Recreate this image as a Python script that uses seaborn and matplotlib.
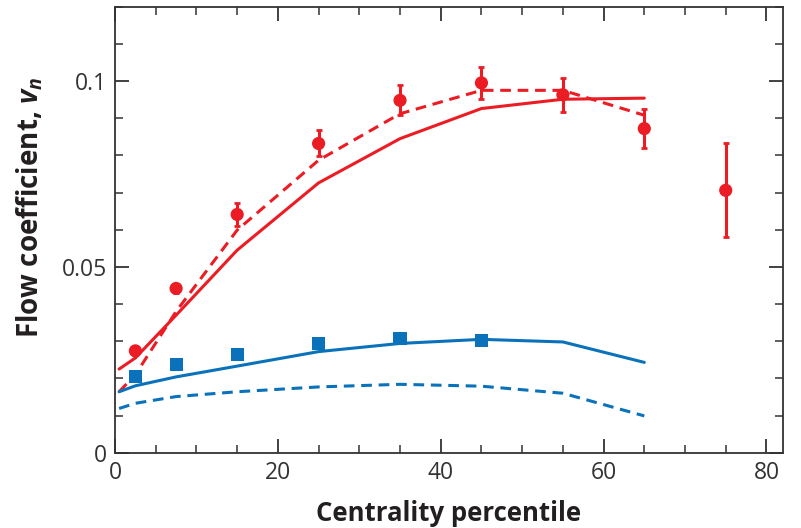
import numpy as np
import pandas as pd
import matplotlib
matplotlib.use('Agg')
import matplotlib.pyplot as plt
from matplotlib.ticker import MultipleLocator
import seaborn as sns

sns.set_style('ticks')
plt.rcParams['font.family'] = ['Open Sans', 'DejaVu Sans']
plt.rcParams['mathtext.fontset'] = 'custom'
plt.rcParams['mathtext.it'] = 'Open Sans:italic:bold'
plt.rcParams['mathtext.rm'] = 'Open Sans:bold'

RED = '#ec1c24'
BLUE = '#0a72ba'

# measured v2 (red circles) and v3 (blue squares)
v2_x = [2.5, 7.5, 15, 25, 35, 45, 55, 65, 75]
v2_y = [0.0274, 0.0442, 0.0641, 0.0832, 0.0948, 0.0995, 0.0963, 0.0872, 0.0706]
v2_err = [0.0012, 0.0012, 0.003, 0.0035, 0.004, 0.0044, 0.0046, 0.0052, 0.0126]

v3_x = [2.5, 7.5, 15, 25, 35, 45]
v3_y = [0.0206, 0.0238, 0.0264, 0.0294, 0.0307, 0.0303]

# model curves
model_x = [0.5, 2.5, 7.5, 15, 25, 35, 45, 55, 65]
v2_solid = [0.0225, 0.0255, 0.037, 0.0545, 0.0726, 0.0845, 0.0926, 0.0951, 0.0954]
v2_dash = [0.0164, 0.021, 0.038, 0.0599, 0.0787, 0.0912, 0.0975, 0.0975, 0.0908]
v3_solid = [0.0164, 0.018, 0.0204, 0.0233, 0.0272, 0.0294, 0.0305, 0.0298, 0.0243]
v3_dash = [0.0119, 0.0133, 0.0151, 0.0164, 0.0177, 0.0184, 0.0179, 0.016, 0.0099]

fig = plt.figure(figsize=(8.01, 5.28), dpi=100)
ax = fig.add_axes([0.1436, 0.1426, 0.8336, 0.8447])

models = pd.DataFrame({'x': model_x, 'v2s': v2_solid, 'v2d': v2_dash,
                       'v3s': v3_solid, 'v3d': v3_dash})
sns.lineplot(data=models, x='x', y='v2s', color=RED, lw=2.2, ax=ax)
sns.lineplot(data=models, x='x', y='v2d', color=RED, lw=2.2, ax=ax,
             linestyle=(0, (3.5, 2.2)))
sns.lineplot(data=models, x='x', y='v3s', color=BLUE, lw=2.2, ax=ax)
sns.lineplot(data=models, x='x', y='v3d', color=BLUE, lw=2.2, ax=ax,
             linestyle=(0, (3.5, 2.2)))

ax.errorbar(v2_x, v2_y, yerr=v2_err, fmt='none', ecolor=RED, elinewidth=2.2,
            capsize=2, capthick=2)
sns.scatterplot(x=v2_x, y=v2_y, color=RED, marker='o', s=90, edgecolor='none',
                ax=ax, zorder=5)
sns.scatterplot(x=v3_x, y=v3_y, color=BLUE, marker='s', s=90, edgecolor='none',
                ax=ax, zorder=5)

ax.set_xlim(0, 82)
ax.set_ylim(0, 0.12)
ax.xaxis.set_major_locator(MultipleLocator(20))
ax.xaxis.set_minor_locator(MultipleLocator(5))
ax.yaxis.set_major_locator(MultipleLocator(0.05))
ax.yaxis.set_minor_locator(MultipleLocator(0.01))
ax.set_xticks([0, 20, 40, 60, 80])
ax.set_xticklabels(['0', '20', '40', '60', '80'])
ax.set_yticks([0, 0.05, 0.1])
ax.set_yticklabels(['0', '0.05', '0.1'])
ax.tick_params(which='both', direction='in', top=True, right=True,
               color='#333333', labelsize=16.5, labelcolor='#333333', pad=6)
ax.tick_params(which='major', length=10, width=1.3)
ax.tick_params(which='minor', length=6, width=1.1)
for s in ax.spines.values():
    s.set_color('#333333')
    s.set_linewidth(1.3)

ax.set_xlabel('Centrality percentile', fontsize=18.5, fontweight='bold',
              color='#231f20')
ax.xaxis.set_label_coords(0.5, -0.105)
ax.set_ylabel(r'Flow coefficient, $v_n$', fontsize=20, fontweight='bold',
              color='#231f20')
ax.yaxis.set_label_coords(-0.105, 0.55)

fig.savefig('out.png', dpi=100)
